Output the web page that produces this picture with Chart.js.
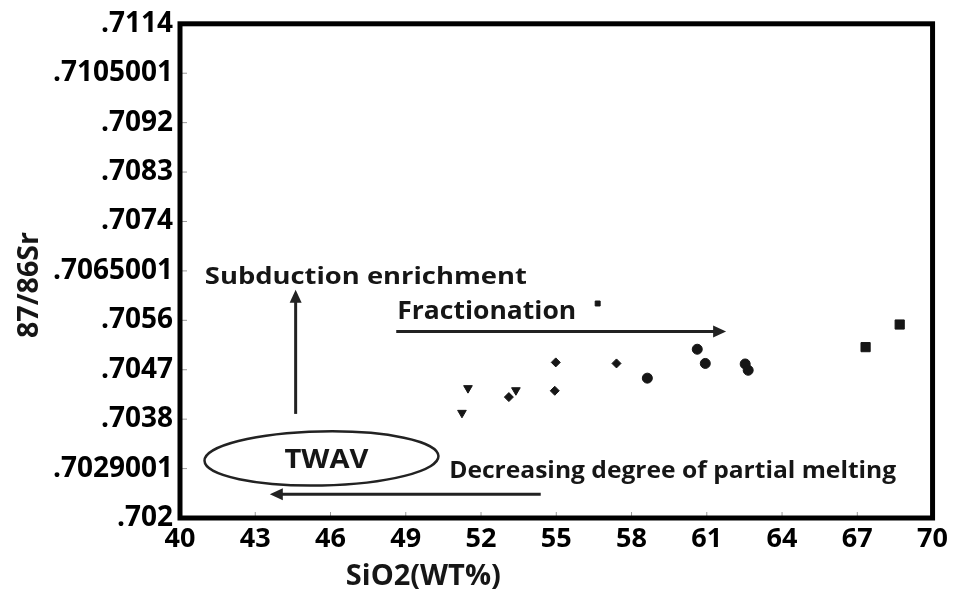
<!DOCTYPE html>
<html>
<head>
<meta charset="utf-8">
<script src="https://cdn.jsdelivr.net/npm/chart.js@4.4.1/dist/chart.umd.min.js"></script>
<style>
  html, body { margin: 0; padding: 0; background: #fff; }
</style>
</head>
<body>
<canvas id="chartSr" width="953" height="592"></canvas>
<script>
// ejes
const xTickValues = [40, 43, 46, 49, 52, 55, 58, 61, 64, 67, 70];
const yTickValues = [0.702, 0.70294, 0.70388, 0.70482, 0.70576, 0.7067, 0.70764, 0.70858, 0.70952, 0.71046, 0.7114];
const yTickLabels = [".702", ".7029001", ".7038", ".7047", ".7056", ".7065001", ".7074", ".7083", ".7092", ".7105001", ".7114"];

// muestras por simbolo (SiO2 wt%, 87Sr/86Sr)
const triangleSiO2 = [51.48, 53.39, 51.24];
const triangleSr = [0.70447, 0.70443, 0.70400];
const diamondSiO2 = [54.98, 57.40, 53.11, 54.94];
const diamondSr = [0.70496, 0.70494, 0.70430, 0.70442];
const circleSiO2 = [60.62, 60.94, 58.63, 62.53, 62.65];
const circleSr = [0.70521, 0.70494, 0.70466, 0.70493, 0.70481];
const dotSiO2 = [56.65];
const dotSr = [0.70608];
const squareSiO2 = [67.33, 68.69];
const squareSr = [0.70525, 0.70568];

const INK = "#161616";
const FONT = "'Open Sans', 'DejaVu Sans', sans-serif";
const el = (id) => document.getElementById(id);
const toPoints = (xs, ys) => xs.map((x, i) => ({ x, y: ys[i] }));

//Texto ajustado a un ancho
const fitText = (ctx, text, x, y, size, width, align, rot) => {
  ctx.save();
  ctx.font = `bold ${size}px ${FONT}`;
  const w = ctx.measureText(text).width;
  const sx = width / w;
  ctx.translate(x, y);
  if (rot) ctx.rotate(rot);
  ctx.scale(sx, 1);
  ctx.textAlign = align === "center" ? "center" : "left";
  ctx.textBaseline = "alphabetic";
  ctx.fillStyle = INK;
  ctx.fillText(text, 0, 0);
  ctx.restore();
};

const arrow = (ctx, x1, y1, x2, y2) => {
  const ang = Math.atan2(y2 - y1, x2 - x1);
  const head = 13, half = 6;
  ctx.save();
  ctx.strokeStyle = "#222";
  ctx.fillStyle = "#222";
  ctx.lineWidth = 3;
  ctx.beginPath();
  ctx.moveTo(x1, y1);
  ctx.lineTo(x2 - Math.cos(ang) * head * 0.8, y2 - Math.sin(ang) * head * 0.8);
  ctx.stroke();
  ctx.beginPath();
  ctx.moveTo(x2, y2);
  ctx.lineTo(x2 - Math.cos(ang) * head - Math.sin(ang) * half, y2 - Math.sin(ang) * head + Math.cos(ang) * half);
  ctx.lineTo(x2 - Math.cos(ang) * head + Math.sin(ang) * half, y2 - Math.sin(ang) * head - Math.cos(ang) * half);
  ctx.closePath();
  ctx.fill();
  ctx.restore();
};

//Marco, marcas y anotaciones
const annotations = {
  id: "annotations",
  afterDatasetsDraw(chart) {
    const { ctx, chartArea: a, scales: { x, y } } = chart;
    const px = (v) => x.getPixelForValue(v);
    const py = (v) => y.getPixelForValue(v);

    // marcas interiores
    ctx.save();
    ctx.strokeStyle = "#9a9a9a";
    ctx.lineWidth = 1;
    yTickValues.slice(1, -1).forEach((v) => {
      ctx.beginPath();
      ctx.moveTo(a.left, py(v));
      ctx.lineTo(a.left + 7, py(v));
      ctx.stroke();
    });
    xTickValues.slice(1, -1).forEach((v) => {
      ctx.beginPath();
      ctx.moveTo(px(v), a.bottom);
      ctx.lineTo(px(v), a.bottom - 6);
      ctx.stroke();
    });
    ctx.restore();

    // marco
    ctx.save();
    ctx.strokeStyle = "#000";
    ctx.lineWidth = 5;
    ctx.strokeRect(a.left, a.top, a.right - a.left, a.bottom - a.top);
    ctx.restore();

    // flechas
    arrow(ctx, px(44.61), py(0.70398), px(44.61), py(0.70634));
    arrow(ctx, px(48.62), py(0.705549), px(61.77), py(0.705549));
    arrow(ctx, px(54.38), py(0.702453), px(43.58), py(0.702453));

    // elipse TWAV
    ctx.save();
    ctx.strokeStyle = "#222";
    ctx.lineWidth = 2.5;
    ctx.beginPath();
    ctx.ellipse(px(45.64), py(0.703133), 117, 27, -0.02, 0, Math.PI * 2);
    ctx.stroke();
    ctx.restore();

    // textos
    fitText(ctx, "Subduction enrichment", px(40.99), py(0.706455), 24, 322);
    fitText(ctx, "Fractionation", px(48.66), py(0.705794), 25, 179);
    fitText(ctx, "TWAV", px(45.84), py(0.702944), 27, 84, "center");
    fitText(ctx, "Decreasing degree of partial melting", px(50.73), py(0.702755), 24, 447);

    // titulos de ejes
    fitText(ctx, "SiO2(WT%)", px(49.7), 585, 28, 155, "center");
    fitText(ctx, "87/86Sr", 38, 285, 28, 106, "center", -Math.PI / 2);
  }
};

const pointSet = (data, style, radius, rotation) => ({
  data,
  pointStyle: style,
  radius,
  rotation: rotation || 0,
  backgroundColor: INK,
  borderColor: INK,
  borderWidth: 1,
  showLine: false
});

Chart.defaults.font.family = FONT;
Chart.defaults.color = "#000";

new Chart(el("chartSr").getContext("2d"), {
  type: "scatter",
  data: {
    datasets: [
      pointSet(toPoints(triangleSiO2, triangleSr), "triangle", 5, 180),
      pointSet(toPoints(diamondSiO2, diamondSr), "rectRot", 4.5),
      pointSet(toPoints(circleSiO2, circleSr), "circle", 5),
      pointSet(toPoints(dotSiO2, dotSr), "rect", 3.5),
      pointSet(toPoints(squareSiO2, squareSr), "rect", 6.5)
    ]
  },
  options: {
    responsive: false,
    animation: false,
    layout: { padding: { top: 20, right: 18, left: 0, bottom: 0 } },
    plugins: { legend: { display: false }, tooltip: { enabled: false } },
    scales: {
      x: {
        type: "linear",
        min: 40,
        max: 70,
        afterBuildTicks: (s) => { s.ticks = xTickValues.map((v) => ({ value: v })); },
        afterFit: (s) => { s.height = 74; },
        grid: { display: false, drawTicks: false },
        border: { display: false },
        ticks: { padding: 5, font: { size: 27, weight: "bold" }, color: "#000", maxRotation: 0 },
        title: { display: false }
      },
      y: {
        type: "linear",
        min: 0.702,
        max: 0.7114,
        afterBuildTicks: (s) => { s.ticks = yTickValues.map((v) => ({ value: v })); },
        afterFit: (s) => { s.width = 180; },
        grid: { display: false, drawTicks: false },
        border: { display: false },
        ticks: {
          padding: 7,
          font: { size: 28, weight: "bold" },
          color: "#000",
          callback: (v, i) => yTickLabels[i]
        },
        title: { display: false }
      }
    }
  },
  plugins: [annotations]
});
</script>
</body>
</html>
